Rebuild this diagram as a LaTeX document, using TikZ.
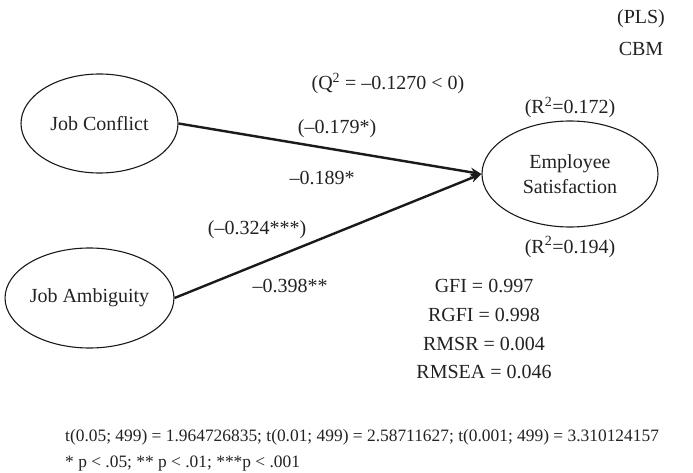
\documentclass[tikz,border=0pt]{standalone}
\usepackage{fontspec}
\setmainfont{Liberation Serif}
\usepackage{tikz}
\usetikzlibrary{arrows.meta,positioning,shapes.geometric}
\usepackage{xcolor}
\definecolor{semLine}{HTML}{1A1A1A}
\definecolor{semText}{HTML}{222222}

\begin{document}
\begin{tikzpicture}[
        x=1pt, y=-1pt,
        construct/.style={
            draw=semLine,
            ellipse,
            line width=1.1pt,
            inner sep=0pt,
            align=center,
            text=semText,
            font=\fontsize{20}{25}\selectfont
        },
        coef/.style={
            anchor=base,
            inner sep=0pt,
            text=semText,
            font=\fontsize{20}{24}\selectfont
        },
        note/.style={
            anchor=base west,
            inner sep=0pt,
            text=semText,
            font=\fontsize{17.4}{21}\selectfont
        },
        arrow/.style={
            -{Stealth[length=11pt,width=9pt]},
            line width=2.4pt,
            draw=semLine
        }
    ]

    \useasboundingbox (0,0) rectangle (693,473);

    \node[construct, minimum width=157pt, minimum height=99pt] (conflict) at (99.5,123.5) {Job Conflict};
    \node[construct, minimum width=165pt, minimum height=100pt] (ambiguity) at (89.5,298) {Job Ambiguity};
    \node[construct, minimum width=176pt, minimum height=106pt] (satisfaction) at (570,174) {Employee\\Satisfaction};

    \draw[arrow] (conflict.east) -- (satisfaction.west);
    \draw[arrow] (ambiguity.east) -- (satisfaction.west);

    \node[coef] (pls) at (641,24) {(PLS)};
    \node[coef] (cbm) at (641,56) {CBM};
    \node[coef] (qsq) at (388,90) {(Q\textsuperscript{2} = –0.1270 < 0)};
    \node[coef] (rsqpls) at (570,114) {(R\textsuperscript{2}=0.172)};
    \node[coef] (rsqcbm) at (570,253) {(R\textsuperscript{2}=0.194)};

    \node[coef] (cfpls) at (337,134) {(–0.179*)};
    \node[coef] (cfcbm) at (322,185) {–0.189*};
    \node[coef] (ampls) at (257,234) {(–0.324***)};
    \node[coef] (amcbm) at (290,292) {–0.398**};

    \node[coef] (gfi) at (484,292) {GFI = 0.997};
    \node[coef] (rgfi) at (484,321) {RGFI = 0.998};
    \node[coef] (rmsr) at (484,350) {RMSR = 0.004};
    \node[coef] (rmsea) at (484,378) {RMSEA = 0.046};

    \node[note] (tvals) at (65,441) {t(0.05; 499) = 1.964726835; t(0.01; 499) = 2.58711627; t(0.001; 499) = 3.310124157};
    \node[note] (pvals) at (65,467) {* p < .05; ** p < .01; ***p < .001};

    \end{tikzpicture}
\end{document}
